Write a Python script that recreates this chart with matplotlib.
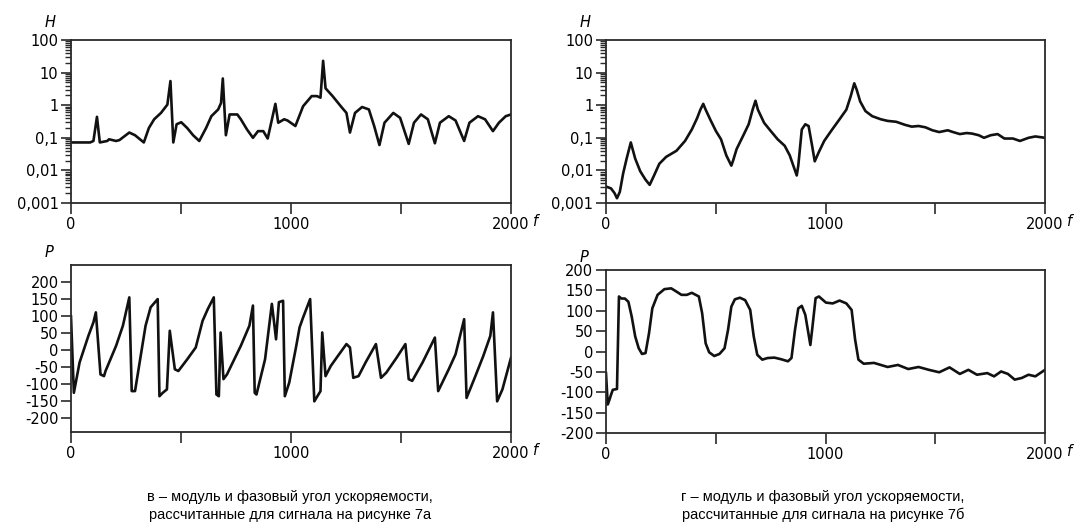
import matplotlib
matplotlib.use("Agg")
import matplotlib.pyplot as plt
from matplotlib.ticker import FixedLocator, NullFormatter
import numpy as np

# ---- data ----
f_h_left = [0, 87, 102, 118, 131, 165, 173, 205, 220, 265, 291, 331, 354, 378, 409, 438, 452, 465,
            480, 501, 528, 555, 583, 614, 638, 669, 682, 690, 704, 721, 756, 772, 800, 827, 850,
            874, 894, 929, 942, 969, 984, 1020, 1055, 1094, 1118, 1134, 1146, 1157, 1189, 1228,
            1252, 1268, 1291, 1323, 1354, 1378, 1402, 1425, 1465, 1496, 1535, 1559, 1591, 1622,
            1654, 1677, 1717, 1748, 1787, 1811, 1850, 1882, 1918, 1945, 1976, 2000]
h_left = [0.072, 0.072, 0.08, 0.44, 0.072, 0.08, 0.09, 0.08, 0.085, 0.145, 0.12, 0.072, 0.2, 0.37,
          0.58, 1.04, 5.5, 0.072, 0.26, 0.3, 0.2, 0.12, 0.08, 0.2, 0.46, 0.74, 1.17, 6.6, 0.12,
          0.52, 0.52, 0.37, 0.18, 0.1, 0.16, 0.16, 0.095, 1.1, 0.29, 0.37, 0.34, 0.23, 0.93, 1.9,
          1.9, 1.7, 23, 3.3, 1.9, 0.9, 0.58, 0.145, 0.58, 0.88, 0.74, 0.23, 0.06, 0.29, 0.58,
          0.41, 0.065, 0.29, 0.52, 0.37, 0.068, 0.29, 0.46, 0.34, 0.08, 0.29, 0.46, 0.37, 0.16,
          0.29, 0.46, 0.52]

f_p_left = [0, 13, 39, 79, 102, 113, 134, 150, 157, 205, 236, 265, 276, 291, 339, 362, 394, 402,
            417, 436, 449, 472, 488, 528, 567, 598, 622, 649, 661, 672, 680, 693, 709, 772, 811,
            827, 835, 843, 882, 913, 924, 932, 945, 964, 972, 992, 1024, 1039, 1055, 1087, 1106,
            1134, 1142, 1157, 1181, 1213, 1252, 1268, 1283, 1307, 1339, 1386, 1409, 1433, 1480,
            1520, 1535, 1551, 1598, 1654, 1669, 1717, 1748, 1787, 1798, 1835, 1874, 1906, 1918,
            1937, 1961, 2000]
p_left = [99, -125, -36, 42, 82, 111, -71, -76, -61, 13, 72, 155, -120, -120, 72, 126, 150, -135,
          -125, -115, 57, -56, -61, -27, 8, 86, 121, 155, -130, -135, 52, -85, -71, 13, 72, 131,
          -125, -130, -27, 136, 77, 32, 141, 145, -135, -95, 13, 67, 96, 150, -150, -120, 52, -76,
          -46, -17, 18, 8, -81, -76, -36, 18, -81, -66, -22, 18, -85, -90, -36, 37, -120, -56,
          -12, 91, -140, -81, -17, 42, 111, -150, -115, -22]

f_h_right = [0, 23, 39, 50, 63, 78, 94, 113, 133, 156, 180, 199, 219, 243, 274, 321, 360, 391,
             415, 430, 443, 454, 477, 501, 524, 548, 571, 579, 595, 626, 650, 668, 681, 692, 720,
             751, 782, 814, 837, 869, 876, 892, 908, 923, 939, 951, 970, 994, 1025, 1064, 1095,
             1115, 1131, 1142, 1158, 1182, 1213, 1252, 1283, 1322, 1362, 1393, 1424, 1455, 1487,
             1518, 1557, 1581, 1612, 1643, 1667, 1698, 1722, 1753, 1784, 1815, 1854, 1886, 1925,
             1956, 2000]
h_right = [0.0032, 0.0028, 0.002, 0.0014, 0.0022, 0.008, 0.023, 0.072, 0.023, 0.0094, 0.0052,
           0.0036, 0.007, 0.016, 0.026, 0.04, 0.08, 0.18, 0.4, 0.73, 1.1, 0.73, 0.34, 0.16, 0.09,
           0.029, 0.014, 0.02, 0.045, 0.12, 0.26, 0.73, 1.37, 0.73, 0.29, 0.16, 0.09, 0.057,
           0.029, 0.007, 0.014, 0.18, 0.26, 0.23, 0.057, 0.019, 0.037, 0.08, 0.16, 0.37, 0.73,
           1.9, 4.7, 3.0, 1.3, 0.66, 0.46, 0.37, 0.33, 0.31, 0.25, 0.22, 0.23, 0.21, 0.17, 0.15,
           0.17, 0.15, 0.13, 0.14, 0.135, 0.12, 0.1, 0.12, 0.13, 0.095, 0.095, 0.08, 0.1, 0.11,
           0.1]

f_p_right = [0, 8, 16, 23, 31, 50, 59, 70, 86, 102, 117, 133, 149, 164, 180, 196, 211, 235, 266,
             297, 321, 344, 368, 391, 423, 438, 454, 470, 493, 517, 540, 556, 571, 587, 610, 634,
             657, 673, 689, 712, 736, 767, 798, 829, 845, 861, 876, 892, 908, 931, 939, 955, 970,
             1002, 1033, 1064, 1095, 1119, 1135, 1150, 1174, 1221, 1252, 1283, 1330, 1377, 1424,
             1471, 1518, 1565, 1612, 1651, 1690, 1737, 1768, 1800, 1831, 1862, 1894, 1925, 1956,
             2000]
p_right = [-53, -130, -118, -106, -94, -92, 135, 130, 130, 122, 86, 37, 8, -6, -4, 45, 106, 139,
           153, 155, 147, 139, 139, 144, 135, 94, 20, -2, -11, -6, 8, 53, 110, 128, 132, 126, 102,
           37, -8, -20, -16, -15, -19, -24, -16, 53, 106, 112, 90, 16, 53, 131, 135, 120, 118, 125,
           118, 102, 29, -20, -30, -28, -33, -38, -33, -43, -38, -45, -51, -39, -55, -45, -57,
           -53, -61, -49, -55, -69, -65, -57, -61, -45]

log_ticks = [0.001, 0.01, 0.1, 1, 10, 100]
log_labels = ["0,001", "0,01", "0,1", "1", "10", "100"]
p_ticks = [-200, -150, -100, -50, 0, 50, 100, 150, 200]
x_ticks = [0, 500, 1000, 1500, 2000]
x_labels = ["0", "", "1000", "", "2000"]
captions = ["в – модуль и фазовый угол ускоряемости,\nрассчитанные для сигнала на рисунке 7а",
            "г – модуль и фазовый угол ускоряемости,\nрассчитанные для сигнала на рисунке 7б"]

plt.rcParams['font.family'] = ['DejaVu Sans']
plt.rcParams['axes.unicode_minus'] = False
W, Hh = 1080, 526
fig = plt.figure(figsize=(W / 100, Hh / 100), dpi=100)

def fr(l, t, r, b):
    return [l / W, 1 - b / Hh, (r - l) / W, (b - t) / Hh]

SP = '#2a2a2a'
TFS = 10.5

def style(ax):
    for s in ax.spines.values():
        s.set_color(SP)
        s.set_linewidth(1.3)
    ax.set_xlim(0, 2000)
    ax.set_xticks(x_ticks, labels=x_labels)
    ax.tick_params(axis='both', which='major', direction='out', length=7, width=1.2,
                   color=SP, labelsize=TFS, pad=2)
    ax.tick_params(axis='x', length=8)
    ax.annotate("f", xy=(1, 0), xycoords='axes fraction', xytext=(16, -8.2),
                textcoords='offset points', ha='left', va='top', fontsize=TFS, style='italic')

def hax(rect, f, h):
    ax = fig.add_axes(rect)
    ax.plot(f, h, color='#111111', lw=1.9)
    ax.set_yscale('log')
    ax.set_ylim(0.001, 100)
    style(ax)
    ax.set_yticks(log_ticks, labels=log_labels)
    minors = [k * d for d in log_ticks[:-1] for k in range(2, 10)]
    ax.yaxis.set_minor_locator(FixedLocator(minors))
    ax.yaxis.set_minor_formatter(NullFormatter())
    ax.tick_params(axis='y', which='minor', direction='out', length=4, width=1.0, color=SP)
    ax.text(-0.048, 1.06, "H", transform=ax.transAxes, ha='center', va='bottom',
            fontsize=TFS, style='italic')
    return ax

def pax(rect, f, p, ylim):
    ax = fig.add_axes(rect)
    ax.plot(f, p, color='#111111', lw=1.9)
    ax.set_ylim(*ylim)
    style(ax)
    ax.set_yticks(p_ticks)
    ax.yaxis.set_minor_locator(FixedLocator([]))
    ax.text(-0.05, 1.03, "P", transform=ax.transAxes, ha='center', va='bottom',
            fontsize=TFS, style='italic')
    return ax

hax(fr(71, 40, 511, 203), f_h_left, h_left)
pax(fr(71, 265, 511, 432), f_p_left, p_left, (-240, 250))
hax(fr(606, 40, 1045, 203), f_h_right, h_right)
pax(fr(606, 270, 1045, 433), f_p_right, p_right, (-200, 200))

fig.text(290 / W, 1 - 506 / Hh, captions[0], ha='center', va='center', fontsize=10.5,
         family=['Liberation Sans', 'DejaVu Sans'], linespacing=1.3)
fig.text(823 / W, 1 - 506 / Hh, captions[1], ha='center', va='center', fontsize=10.5,
         family=['Liberation Sans', 'DejaVu Sans'], linespacing=1.3)

fig.savefig("out.png", dpi=100)
